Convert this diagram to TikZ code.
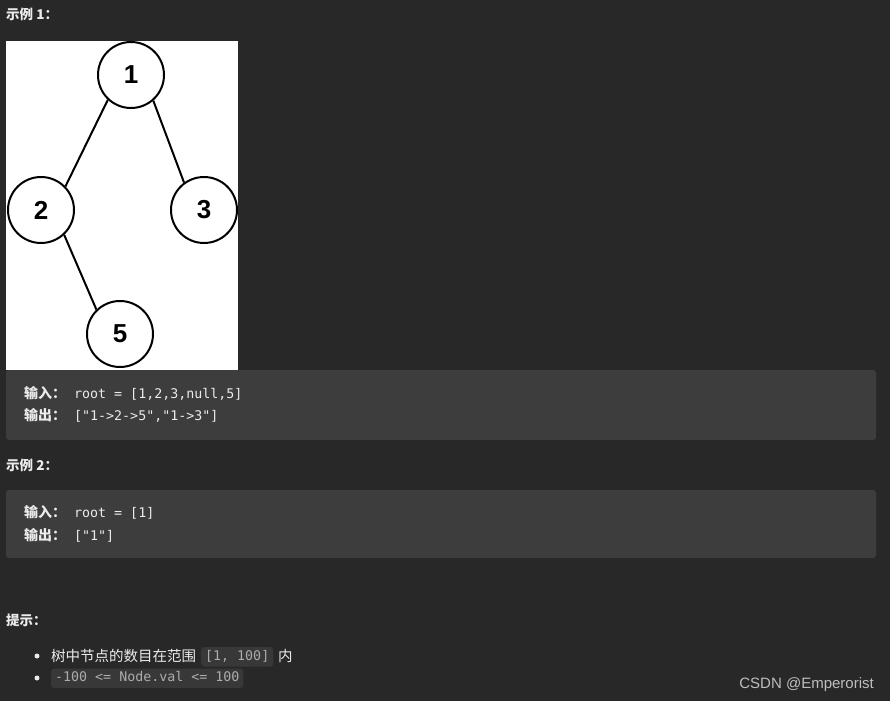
\documentclass[tikz,border=0pt]{standalone}
\usepackage{fontspec}
\setmainfont{Liberation Sans}
\setmonofont{DejaVu Sans Mono}
\newfontfamily\cjk{Noto Sans CJK SC}
\usepackage{tikz}
\usetikzlibrary{positioning}
\definecolor{pagebg}{RGB}{40,40,40}
\definecolor{codebg}{RGB}{61,61,61}
\definecolor{chipbg}{RGB}{56,56,56}
\definecolor{fg}{RGB}{235,235,235}
\definecolor{chipfg}{RGB}{172,172,172}
\definecolor{markfg}{RGB}{190,190,190}

\begin{document}
\begin{tikzpicture}[x=1pt, y=-1pt,
  treenode/.style = {draw, circle, line width=2pt, minimum size=66pt, inner sep=0pt, font=\fontsize{26}{26}\selectfont\bfseries},
  branch/.style = {line width=2pt},
  heading/.style = {anchor=base west, inner sep=0pt, text=fg, font=\cjk\bfseries\fontsize{13.5}{16}\selectfont},
  tag/.style = {anchor=base west, inner sep=0pt, text=fg, font=\cjk\bfseries\fontsize{14}{16}\selectfont},
  codetext/.style = {anchor=base west, inner sep=0pt, text=fg, font=\ttfamily\fontsize{13.3}{16}\selectfont},
  body/.style = {anchor=base west, inner sep=0pt, text=fg, font=\cjk\fontsize{14.5}{16}\selectfont},
  chip/.style = {anchor=base west, fill=chipbg, rounded corners=3pt, inner xsep=4pt, inner ysep=3.5pt, text height=9.5pt, text depth=3pt, text=chipfg, font=\ttfamily\fontsize{13.3}{16}\selectfont},
  dot/.style = {circle, fill=fg, inner sep=0pt, minimum size=5pt}]
\useasboundingbox (0,0) rectangle (890,701);
\fill[pagebg] (0,0) rectangle (890,701);

% example 1
\node[heading] (ex1) at (6,20) {示例 1：};
\fill[white] (6,41) rectangle (238,370);
\node[treenode] (n1) at (131,75) {1};
\node[treenode] (n2) at (41,210) {2};
\node[treenode] (n3) at (204,210) {3};
\node[treenode] (n5) at (120,334) {5};
\draw[branch] (n1.227) -- (n2.44);
\draw[branch] (n1.311) -- (n3.126);
\draw[branch] (n2.313) -- (n5.134);

\fill[codebg, rounded corners=3pt] (6,370) rectangle (876,440);
\node[tag] (in1) at (24,398) {输入：};
\node[codetext] (in1v) at (74,398) {root = [1,2,3,null,5]};
\node[tag] (out1) at (24,420) {输出：};
\node[codetext] (out1v) at (74,420) {["1->2->5","1->3"]};

% example 2
\node[heading] (ex2) at (6,470) {示例 2：};
\fill[codebg, rounded corners=3pt] (6,490) rectangle (876,558);
\node[tag] (in2) at (24,517) {输入：};
\node[codetext] (in2v) at (74,517) {root = [1]};
\node[tag] (out2) at (24,540) {输出：};
\node[codetext] (out2v) at (74,540) {["1"]};

% hints
\node[heading] (hint) at (6,625) {提示：};
\node[dot] (b1) at (37,656) {};
\node[body] (t1) at (51,661) {树中节点的数目在范围};
\node[chip] (c1) at (201,660) {[1, 100]};
\node[body] (t1b) at (278,661) {内};
\node[dot] (b2) at (37,678) {};
\node[chip] (c2) at (51,681.5) {-100 <= Node.val <= 100};

\node[anchor=base east, inner sep=0pt, text=markfg, font=\fontsize{15}{16}\selectfont] (mark) at (874,688) {CSDN @Emperorist};
\end{tikzpicture}
\end{document}
